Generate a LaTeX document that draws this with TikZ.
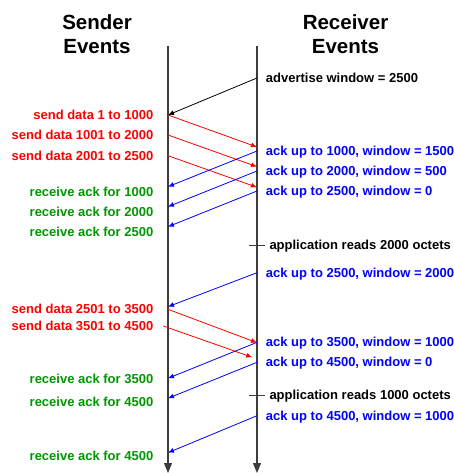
\documentclass[tikz,border=0pt]{standalone}
\usepackage{fontspec}
\setmainfont{Liberation Sans}
\setsansfont{Liberation Sans}
\usetikzlibrary{arrows.meta}

\definecolor{sendred}{RGB}{255,0,0}
\definecolor{ackblue}{RGB}{0,0,255}
\definecolor{rcvgreen}{RGB}{0,150,0}
\definecolor{lifegray}{RGB}{60,60,60}

\begin{document}
\begin{tikzpicture}[x=1bp, y=-1bp, font=\sffamily\bfseries\fontsize{13bp}{15bp}\selectfont,
  title/.style={align=center, inner sep=0pt, font=\sffamily\bfseries\fontsize{20.5bp}{24.7bp}\selectfont},
  lefttxt/.style={anchor=base east, inner sep=0pt, yshift=-4.6bp},
  righttxt/.style={anchor=base west, inner sep=0pt, yshift=-4.6bp},
  life/.style={draw=lifegray, line width=1.2bp, -{Triangle[length=10bp, width=8bp]}},
  msg/.style={line width=0.8bp, -{Latex[length=6bp, width=5bp]}}]
  \useasboundingbox (0,0) rectangle (454,473);

  % Titles and time lines
  \node[title] (sender) at (97,34.3) {Sender\\Events};
  \node[title] (receiver) at (345.5,34.3) {Receiver\\Events};
  \coordinate (Stop) at (168,46);
  \coordinate (Sbot) at (168,473);
  \coordinate (Rtop) at (257,46);
  \coordinate (Rbot) at (257,473);
  \draw[life] (Stop) -- (Sbot);
  \draw[life] (Rtop) -- (Rbot);

  % Window advertisement
  \coordinate (R0) at (257,78);
  \coordinate (S0) at (168,115);
  \node[righttxt] (adv) at (265.7,78) {advertise window = 2500};
  \draw[msg] (R0) -- (S0);

  % First three segments
  \coordinate (S1) at (168,115);
  \coordinate (S2) at (168,135);
  \coordinate (S3) at (168,155.7);
  \coordinate (R1) at (257,147);
  \coordinate (R2) at (257,166.7);
  \coordinate (R3) at (257,187.3);
  \node[lefttxt, text=sendred] (snd1) at (153.5,115) {send data 1 to 1000};
  \node[lefttxt, text=sendred] (snd2) at (153.5,135) {send data 1001 to 2000};
  \node[lefttxt, text=sendred] (snd3) at (153.5,155.7) {send data 2001 to 2500};
  \draw[msg, sendred] (S1) -- (R1);
  \draw[msg, sendred] (S2) -- (R2);
  \draw[msg, sendred] (S3) -- (R3);

  % Acks for them
  \coordinate (A1) at (257,151);
  \coordinate (A2) at (257,171);
  \coordinate (A3) at (257,191);
  \coordinate (K1) at (168,186.7);
  \coordinate (K2) at (168,206.7);
  \coordinate (K3) at (168,226.7);
  \node[righttxt, text=ackblue] (ack1) at (265.7,151) {ack up to 1000, window = 1500};
  \node[righttxt, text=ackblue] (ack2) at (265.7,171) {ack up to 2000, window = 500};
  \node[righttxt, text=ackblue] (ack3) at (265.7,191) {ack up to 2500, window = 0};
  \draw[msg, ackblue] (A1) -- (K1);
  \draw[msg, ackblue] (A2) -- (K2);
  \draw[msg, ackblue] (A3) -- (K3);
  \node[lefttxt, text=rcvgreen] (got1) at (153.5,192) {receive ack for 1000};
  \node[lefttxt, text=rcvgreen] (got2) at (153.5,212) {receive ack for 2000};
  \node[lefttxt, text=rcvgreen] (got3) at (153.5,232) {receive ack for 2500};

  % Application reads, window opens
  \coordinate (T1) at (257,245);
  \draw[lifegray, line width=0.8bp] ([xshift=-8]T1) -- ([xshift=8]T1);
  \node[righttxt] (read1) at (269.3,245) {application reads 2000 octets};
  \coordinate (A4) at (257,272.7);
  \coordinate (K4) at (168,306.7);
  \node[righttxt, text=ackblue] (ack4) at (265.7,273) {ack up to 2500, window = 2000};
  \draw[msg, ackblue] (A4) -- (K4);

  % Next two segments
  \coordinate (S4) at (168,309.3);
  \coordinate (S5) at (163.3,326);
  \coordinate (R4) at (257,342.7);
  \coordinate (R5) at (252.3,357.3);
  \node[lefttxt, text=sendred] (snd4) at (153.5,309.3) {send data 2501 to 3500};
  \node[lefttxt, text=sendred] (snd5) at (153.5,326) {send data 3501 to 4500};
  \draw[msg, sendred] (S4) -- (R4);
  \draw[msg, sendred] (S5) -- (R5);

  \coordinate (A5) at (257,342.3);
  \coordinate (A6) at (257,362.3);
  \coordinate (K5) at (168,378.3);
  \coordinate (K6) at (168,398.3);
  \node[righttxt, text=ackblue] (ack5) at (265.7,342) {ack up to 3500, window = 1000};
  \node[righttxt, text=ackblue] (ack6) at (265.7,362) {ack up to 4500, window = 0};
  \draw[msg, ackblue] (A5) -- (K5);
  \draw[msg, ackblue] (A6) -- (K6);
  \node[lefttxt, text=rcvgreen] (got4) at (153.5,379) {receive ack for 3500};
  \node[lefttxt, text=rcvgreen] (got5) at (153.5,402) {receive ack for 4500};

  % Second read
  \coordinate (T2) at (257,395);
  \draw[lifegray, line width=0.8bp] ([xshift=-8]T2) -- ([xshift=8]T2);
  \node[righttxt] (read2) at (269.3,395) {application reads 1000 octets};
  \coordinate (A7) at (257,415.7);
  \coordinate (K7) at (168,452.7);
  \node[righttxt, text=ackblue] (ack7) at (265.7,416) {ack up to 4500, window = 1000};
  \draw[msg, ackblue] (A7) -- (K7);
  \node[lefttxt, text=rcvgreen] (got6) at (153.5,455.5) {receive ack for 4500};
\end{tikzpicture}
\end{document}
